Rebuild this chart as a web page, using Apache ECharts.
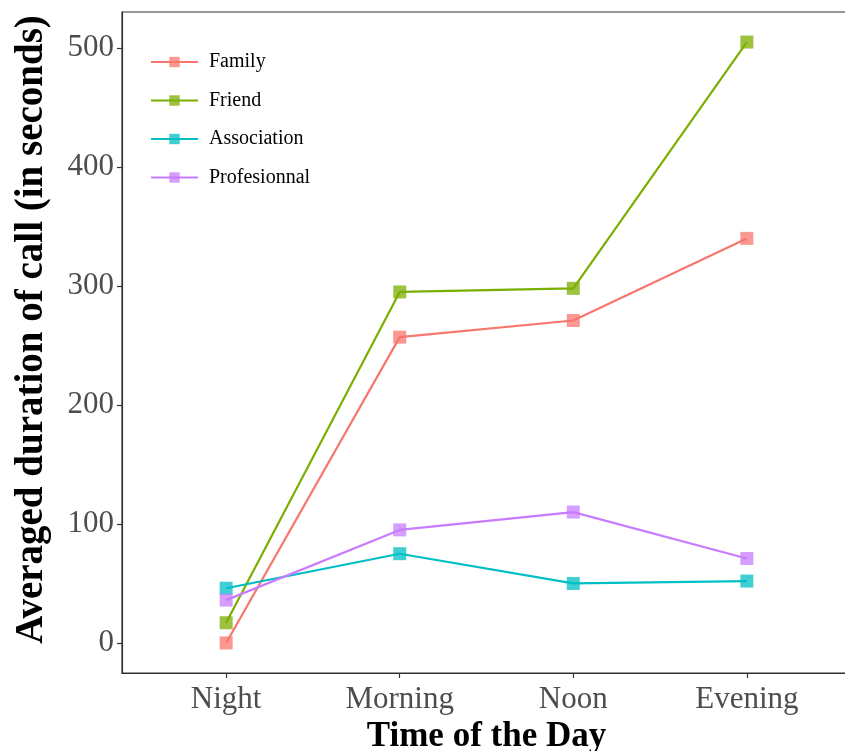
<!DOCTYPE html>
<html>
<head>
<meta charset="utf-8">
<script src="https://cdn.jsdelivr.net/npm/echarts@6/dist/echarts.min.js"></script>
<style>
html,body{margin:0;padding:0;background:#fff;}
#chart{width:845px;height:751px;}
</style>
</head>
<body>
<div id="chart"></div>
<script>
var categories = ['Night', 'Morning', 'Noon', 'Evening'];
var seriesNames = ['Family', 'Friend', 'Association', 'Profesionnal'];
var family = [0, 257, 271, 340];
var friend = [17, 295, 298, 505];
var association = [46, 75, 50, 52];
var profesionnal = [36, 95, 110, 71];
var yTicks = [0, 100, 200, 300, 400, 500];
var colors = ['#F8766D', '#7CAE00', '#00BFC4', '#C77CFF'];

var allValues = [family, friend, association, profesionnal];
var font = '"Liberation Serif", "Times New Roman", serif';

function toPoints(arr) {
  return arr.map(function (v, i) { return [i + 1, v]; });
}

var series = allValues.map(function (vals, k) {
  return {
    name: seriesNames[k],
    type: 'line',
    data: toPoints(vals),
    symbol: 'rect',
    symbolSize: 13,
    color: colors[k],
    lineStyle: { width: 2.2, color: colors[k] },
    itemStyle: { color: colors[k], opacity: 0.75 },
    emphasis: { disabled: true },
    animation: false
  };
});

var chart = echarts.init(document.getElementById('chart'), null, { renderer: 'canvas' });
chart.setOption({
  animation: false,
  backgroundColor: '#ffffff',
  grid: {
    left: 122, right: -6, top: 12, bottom: 78,
    show: true, borderColor: '#333333', borderWidth: 1.2,
    containLabel: false,
    outerBoundsMode: 'none'
  },
  legend: {
    orient: 'vertical',
    left: 150, top: 52,
    padding: 0,
    itemWidth: 47, itemHeight: 13, itemGap: 18.5,
    data: seriesNames,
    textStyle: { fontFamily: font, fontSize: 20, color: '#000', padding: [0, 0, 0, 6] },
    selectedMode: false
  },
  xAxis: {
    type: 'value',
    min: 0.4, max: 4.6,
    splitLine: { show: false },
    axisLine: { show: true, onZero: false, lineStyle: { color: '#333333', width: 1.2 } },
    axisTick: { show: true, length: 5, customValues: [1, 2, 3, 4], lineStyle: { color: '#333333', width: 1.2 } },
    axisLabel: {
      customValues: [1, 2, 3, 4],
      formatter: function (v) { return categories[Math.round(v) - 1] || ''; },
      fontFamily: font, fontSize: 31, color: '#4D4D4D', margin: 11
    },
    name: 'Time of the Day',
    nameLocation: 'middle',
    nameGap: 26,
    nameTextStyle: { fontFamily: font, fontSize: 35, fontWeight: 'bold', color: '#000', verticalAlign: 'top' }
  },
  yAxis: {
    type: 'value',
    min: -25.25, max: 530.25,
    splitLine: { show: false },
    axisLine: { show: true, onZero: false, lineStyle: { color: '#333333', width: 1.2 } },
    axisTick: { show: true, length: 5, customValues: yTicks, lineStyle: { color: '#333333', width: 1.2 } },
    axisLabel: {
      customValues: yTicks,
      fontFamily: font, fontSize: 31, color: '#4D4D4D', margin: 8
    },
    name: 'Averaged duration of call (in seconds)',
    nameLocation: 'middle',
    nameGap: 71,
    nameRotate: 90,
    nameTextStyle: { fontFamily: font, fontSize: 39, fontWeight: 'bold', color: '#000', padding: [0, 0, 0, 26] }
  },
  series: series
});
</script>
</body>
</html>
